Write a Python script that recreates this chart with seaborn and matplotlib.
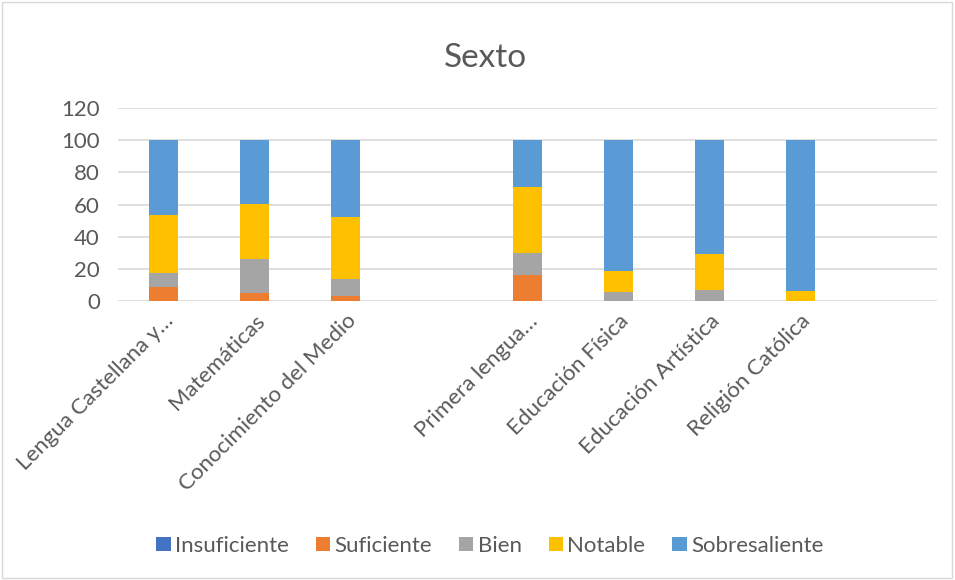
import pandas as pd
import seaborn as sns
import matplotlib.pyplot as plt
from matplotlib.patches import Rectangle, Patch

# Datos (porcentajes por asignatura)
asignaturas = ["Lengua Castellana y…", "Matemáticas", "Conocimiento del Medio", "_vacio1",
               "Primera lengua…", "Educación Física", "Educación Artística", "Religión Católica", "_vacio2"]
etiquetas = ["Lengua Castellana y…", "Matemáticas", "Conocimiento del Medio", "",
             "Primera lengua…", "Educación Física", "Educación Artística", "Religión Católica", ""]
materias = ["Lengua Castellana y…", "Matemáticas", "Conocimiento del Medio",
            "Primera lengua…", "Educación Física", "Educación Artística", "Religión Católica"]

insuficiente = [0, 0, 0, 0, 0, 0, 0]
suficiente = [8.7, 4.8, 3.1, 16.3, 0, 0, 0]
bien = [8.7, 21.5, 10.4, 13.7, 5.8, 6.9, 0]
notable = [35.8, 34.3, 38.6, 40.8, 12.7, 22.1, 6.0]
sobresaliente = [46.8, 39.4, 47.9, 29.2, 81.5, 71.0, 94.0]

series = ["Insuficiente", "Suficiente", "Bien", "Notable", "Sobresaliente"]
colores = ["#4472C4", "#ED7D31", "#A5A5A5", "#FFC000", "#5B9BD5"]


def grafico_apilado():
    df = pd.DataFrame({
        "materia": materias,
        "Insuficiente": insuficiente,
        "Suficiente": suficiente,
        "Bien": bien,
        "Notable": notable,
        "Sobresaliente": sobresaliente,
    })
    # acumulados para apilar (se dibuja de arriba hacia abajo)
    acumulado = df[series].cumsum(axis=1)
    acumulado["materia"] = df["materia"]

    sns.set_style("white")
    plt.rcParams["font.family"] = ["Lato", "DejaVu Sans"]

    fig = plt.figure(figsize=(9.55, 5.8), dpi=100)
    ax = fig.add_axes([0.1236, 0.481, 0.8575, 0.3328])

    for serie, color in reversed(list(zip(series, colores))):
        sns.barplot(data=acumulado, x="materia", y=serie, order=asignaturas,
                    color=color, width=0.31, errorbar=None, saturation=1,
                    linewidth=0, ax=ax, zorder=3)

    ax.set_ylim(0, 120)
    ax.set_yticks(range(0, 121, 20))
    ax.yaxis.grid(True, color="#D9D9D9", linewidth=1.2, zorder=0)
    ax.set_axisbelow(True)
    for s in ax.spines.values():
        s.set_visible(False)
    ax.tick_params(axis="both", length=0, labelsize=16, colors="#595959")
    ax.tick_params(axis="y", pad=13)
    ax.set_xticks(range(len(etiquetas)))
    ax.set_xticklabels(etiquetas, rotation=45, ha="right", rotation_mode="anchor")
    ax.tick_params(axis="x", pad=7)
    ax.set_xlabel("")
    ax.set_ylabel("")

    fig.text(0.508, 0.9, "Sexto", ha="center", va="center", fontsize=24, color="#595959")

    handles = [Patch(facecolor=c, edgecolor="none") for c in colores]
    fig.legend(handles, series, loc="center", bbox_to_anchor=(0.513, 0.059), ncol=5,
               frameon=False, fontsize=16, handlelength=0.65, handleheight=0.65,
               handletextpad=0.2, columnspacing=1.2, labelcolor="#595959")

    fig.patches.append(Rectangle((0.002, 0.003), 0.995, 0.993, transform=fig.transFigure,
                                 fill=False, edgecolor="#D9D9D9", linewidth=1))

    plt.savefig("out.png", dpi=100)
    plt.close()


if __name__ == "__main__":
    grafico_apilado()
